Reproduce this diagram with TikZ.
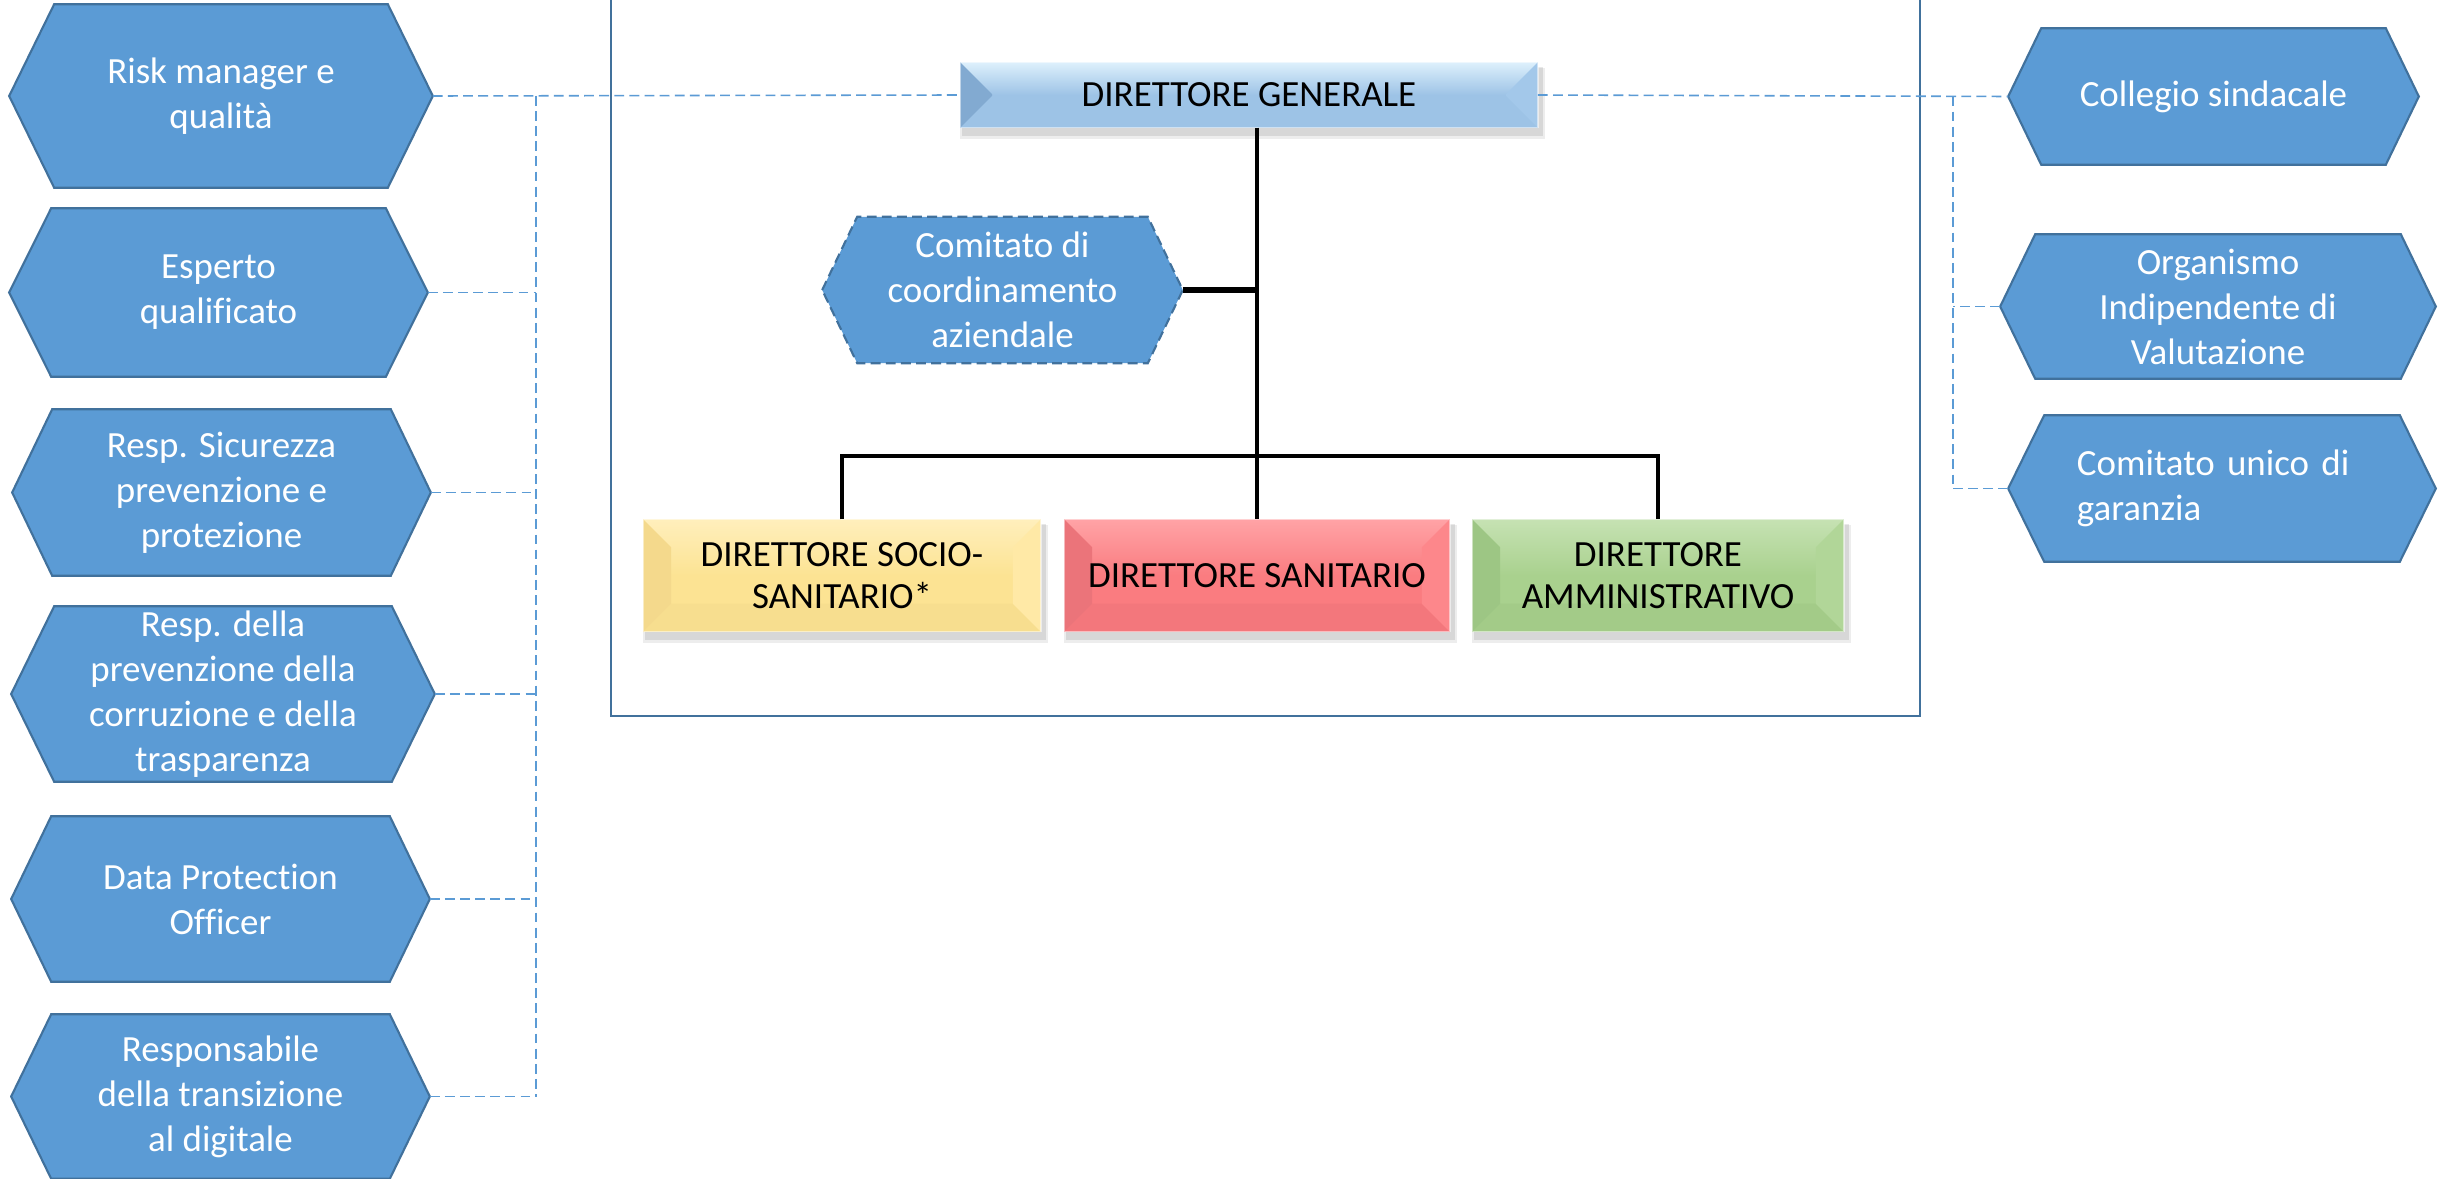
\documentclass[tikz,border=0pt]{standalone}
\usepackage{fontspec}
\setmainfont{Carlito}[Ligatures=NoCommon]
\usetikzlibrary{calc,backgrounds}
\definecolor{hexfill}{HTML}{5B9BD5}
\definecolor{hexline}{HTML}{41719C}
\definecolor{dashc}{HTML}{5B9BD5}
\definecolor{framec}{HTML}{41719C}
% DG colours
\definecolor{dgbase}{HTML}{9DC3E6}
\definecolor{dgtop}{HTML}{DDF0FC}
\definecolor{dgleft}{HTML}{82AAD1}
\definecolor{dgright}{HTML}{A3C8EA}
% yellow
\definecolor{ybase}{HTML}{FCE393}
\definecolor{ytop}{HTML}{FFEFBC}
\definecolor{yleft}{HTML}{F4D98C}
\definecolor{yright}{HTML}{FFE9A6}
\definecolor{ybot}{HTML}{F7DE8F}
% red
\definecolor{rbase}{HTML}{FA7C80}
\definecolor{rtop}{HTML}{FFA3A6}
\definecolor{rleft}{HTML}{EB747A}
\definecolor{rright}{HTML}{FD878B}
\definecolor{rbot}{HTML}{F3777C}
% green
\definecolor{gbase}{HTML}{A9D18E}
\definecolor{gtop}{HTML}{C6E2B3}
\definecolor{gleft}{HTML}{9DC684}
\definecolor{gright}{HTML}{B1D698}
\definecolor{gbot}{HTML}{A3CB88}
\tikzset{
  hexnode/.style={inner sep=0pt, align=center, text=white,
    font=\fontsize{10.5}{12.8}\selectfont},
  hexpath/.style={fill=hexfill, draw=hexline, line width=0.6pt, line join=miter},
  hexdashed/.style={dash pattern=on 2.8pt off 1.5pt},
  boxnode/.style={inner sep=0pt, align=center, text=black,
    font=\fontsize{10.5}{12}\selectfont},
  dashline/.style={draw=dashc, line width=0.45pt, dash pattern=on 2.8pt off 1.5pt},
  orgline/.style={draw=black, line width=1.15pt},
  thickorg/.style={draw=black, line width=1.7pt},
}
\newcommand\drawhex[3][]{%
  \path[hexpath,#1] (#2.west) -- ($(#2.north west)+(#3,0)$) -- ($(#2.north east)-(#3,0)$)
    -- (#2.east) -- ($(#2.south east)-(#3,0)$) -- ($(#2.south west)+(#3,0)$) -- cycle;}
% name, base, top, left, right, bottom, bevel
\newcommand\bevelbox[7]{%
  \fill[black,opacity=0.07] ($(#1.north west)+(0,6)$) rectangle ($(#1.south east)+(7,11)$);
  \fill[black,opacity=0.09] ($(#1.north west)+(2,5)$) rectangle ($(#1.south east)+(5,8)$);
  \fill[#2] (#1.north west) rectangle (#1.south east);
  \shade[top color=#3, bottom color=#2] (#1.north west) rectangle (#1.east);
  \fill[#6] (#1.south west) -- ($(#1.south west)+(#7,-#7)$) -- ($(#1.south east)+(-#7,-#7)$) -- (#1.south east) -- cycle;
  \fill[#4] (#1.north west) -- ($(#1.north west)+(#7,#7)$) -- ($(#1.south west)+(#7,-#7)$) -- (#1.south west) -- cycle;
  \fill[#5] (#1.north east) -- ($(#1.north east)+(-#7,#7)$) -- ($(#1.south east)+(-#7,-#7)$) -- (#1.south east) -- cycle;
  \draw[white,opacity=0.5,line width=0.4pt] (#1.north west) rectangle (#1.south east);}
\begin{document}
\begin{tikzpicture}[x=0.01cm,y=-0.01cm]
\useasboundingbox (0,0) rectangle (2450,1179);
% ---- left hexagons
\node[hexnode, minimum width=4.22cm, minimum height=1.82cm] (h1) at (221,96) {Risk manager e\\qualità};
\node[hexnode, minimum width=4.17cm, minimum height=1.67cm] (h2) at (218.5,292.5) {Esperto\\qualificato};
\node[hexnode, minimum width=4.17cm, minimum height=1.65cm] (h3) at (221.5,492.5) {Resp. Sicurezza\\prevenzione e\\protezione};
\node[hexnode, minimum width=4.22cm, minimum height=1.74cm] (h4) at (223,694) {Resp. della\\prevenzione della\\corruzione e della\\trasparenza};
\node[hexnode, minimum width=4.17cm, minimum height=1.64cm] (h5) at (220.5,899) {Data Protection\\Officer};
\node[hexnode, minimum width=4.17cm, minimum height=1.63cm] (h6) at (220.5,1096.5) {Responsabile\\della transizione\\al digitale};
% ---- right hexagons
\node[hexnode, minimum width=4.09cm, minimum height=1.35cm] (r1) at (2213.5,96.5) {Collegio sindacale};
\node[hexnode, minimum width=4.34cm, minimum height=1.43cm] (r2) at (2218,306.5) {Organismo\\Indipendente di\\Valutazione};
\node[hexnode, minimum width=4.26cm, minimum height=1.45cm, text width=2.9cm, align=left] (r3) at (2222,488.5) {Comitato unico di\\garanzia};
% ---- central part
\node[boxnode, minimum width=5.76cm, minimum height=0.64cm] (dg) at (1249,95) {DIRETTORE GENERALE};
\node[hexnode, minimum width=3.59cm, minimum height=1.45cm] (cc) at (1002.5,290) {Comitato di\\coordinamento\\aziendale};
\node[boxnode, minimum width=3.96cm, minimum height=1.11cm] (dss) at (842,575.5) {DIRETTORE SOCIO-\\SANITARIO*};
\node[boxnode, minimum width=3.84cm, minimum height=1.11cm] (ds) at (1257,575.5) {DIRETTORE SANITARIO};
\node[boxnode, minimum width=3.70cm, minimum height=1.11cm] (da) at (1658,575.5) {DIRETTORE\\AMMINISTRATIVO};
\coordinate (lbus) at (536,0);
\coordinate (rbus) at (1953,0);
\coordinate (bar) at (1257,456);
% ---- background shapes
\begin{pgfonlayer}{background}
\fill[white] (0,0) rectangle (2450,1179);
\draw[framec, line width=0.75pt] (611,-20) rectangle (1920,716);
\drawhex{h1}{45}
\drawhex{h2}{42}
\drawhex{h3}{40}
\drawhex{h4}{43}
\drawhex{h5}{40}
\drawhex{h6}{40}
\drawhex{r1}{33}
\drawhex{r2}{35}
\drawhex{r3}{36}
\drawhex[hexdashed]{cc}{35}
\bevelbox{dg}{dgbase}{dgtop}{dgleft}{dgright}{dgbase}{32}
\bevelbox{dss}{ybase}{ytop}{yleft}{yright}{ybot}{28}
\bevelbox{ds}{rbase}{rtop}{rleft}{rright}{rbot}{28}
\bevelbox{da}{gbase}{gtop}{gleft}{gright}{gbot}{28}
\end{pgfonlayer}
% ---- dashed staff connectors
\draw[dashline] (h1.east) -- (dg.west);
\draw[dashline] (h1.east -| lbus) -- (h6.east -| lbus);
\foreach \n in {h2,h3,h4,h5,h6} \draw[dashline] (\n.east) -- (\n.east -| lbus);
\draw[dashline] (dg.east) -- (r1.west);
\draw[dashline] (r1.west -| rbus) -- (r3.west -| rbus);
\draw[dashline] (r2.west) -- (r2.west -| rbus);
\draw[dashline] (r3.west) -- (r3.west -| rbus);
% ---- hierarchy
\draw[orgline] (ds.north |- dg.south) -- (ds.north);
\draw[thickorg] (cc.east) -- (cc.east -| ds.north);
\draw[orgline] (dss.north) -- (dss.north |- bar) -- (da.north |- bar) -- (da.north);
\end{tikzpicture}
\end{document}
